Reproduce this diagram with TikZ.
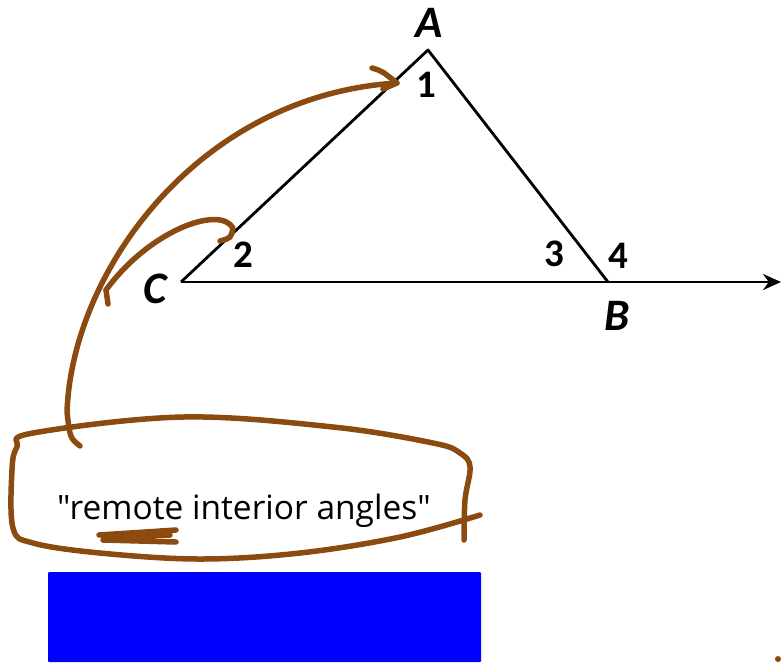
\documentclass[tikz,border=0pt]{standalone}
\usepackage{fontspec}
\newfontfamily\labelfont{Carlito}
\newfontfamily\notefont{Open Sans}
\usetikzlibrary{positioning,arrows.meta}
\definecolor{penbrown}{HTML}{8B4A10}
\definecolor{boxblue}{HTML}{0000FF}

\begin{document}
\begin{tikzpicture}[x=1pt, y=-1pt,
    edge/.style={line width=2.8pt, line join=round},
    ink/.style={draw=penbrown, line width=5.5pt, line cap=round, line join=round},
    vtx/.style={font=\labelfont\bfseries\itshape\fontsize{45}{45}\selectfont, inner sep=0pt},
    ang/.style={font=\labelfont\bfseries\fontsize{39}{39}\selectfont, inner sep=0pt}
]
    \useasboundingbox (0,0) rectangle (781,662);

    \coordinate (A) at (428,50);
    \coordinate (B) at (608,282);
    \coordinate (C) at (181,282);
    \coordinate (E) at (781,282);

    \draw[edge] (C) -- (A) -- (B);
    \draw[edge, -{Stealth[length=18pt, width=16pt]}] (C) -- (E);

    \node[vtx] (labA) at (429,23) {A};
    \node[vtx] (labB) at (617,316) {B};
    \node[vtx] (labC) at (155,289) {C};
    \node[ang] (ang1) at (426,85) {1};
    \node[ang] (ang2) at (243,255) {2};
    \node[ang] (ang3) at (554,254) {3};
    \node[ang] (ang4) at (618,256) {4};

    \node[font=\notefont\fontsize{33.5}{34}\selectfont, inner sep=0pt] (remote) at (244,511)
        {"remote interior angles"};

    \draw[ink] plot[smooth, tension=0.6] coordinates {(480,515) (400,537) (300,553) (200,559)
        (100,553) (33,543) (13,528) (12,470) (17,447) (33,433) (183,417) (333,427) (433,443)
        (460,453) (470,467) (465,500) (464,540)};
    \draw[ink] (99,535) -- (176,530) (103,540) -- (176,542) (110,537) -- (170,535);

    \coordinate (hookA) at (80,446);
    \coordinate (bendA) at (67,412);
    \coordinate (tip1) at (397,83);
    \coordinate (hookB) at (106,290);
    \coordinate (tip2) at (233,228);
    \draw[ink] (hookA) .. controls (70,438) .. (bendA) .. controls (72,270) and (200,95) .. (tip1);
    \draw[ink] (372,68) .. controls (382,71) .. (tip1) -- (383,89);
    \draw[ink] (hookB) .. controls (150,230) and (220,205) .. (tip2) .. controls (231,238) .. (220,241);
    \draw[ink] (hookB) -- (108,304);

    \fill[boxblue, rounded corners=1pt] (48,572) rectangle (481,662);
    \fill[penbrown] (778,659) circle (3);
\end{tikzpicture}
\end{document}
